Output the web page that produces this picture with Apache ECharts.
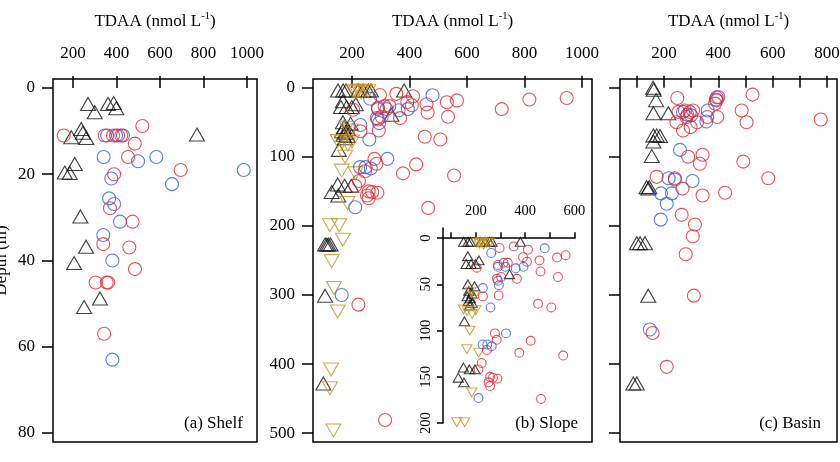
<!DOCTYPE html>
<html>
<head>
<meta charset="utf-8">
<script src="https://cdn.jsdelivr.net/npm/echarts@6/dist/echarts.min.js"></script>
<style>
  html, body { margin: 0; padding: 0; background: #fff; }
  #chart { width: 840px; height: 462px; }
</style>
</head>
<body>
<div id="chart"></div>
<script>
// [TDAA (nmol/L), depth (m)]
const shelfTriangles = [[269,3.7],[300,5.6],[361,3.7],[387,3.5],[399,4.7],[238,9.5],[245,10.4],[192,11.4],[261,11.6],[770,10.8],[208,17.6],[162,19.6],[185,19.7],[234,29.8],[260,36.8],[205,40.6],[251,50.8],[324,48.8]];
const shelfRed = [[157,11],[346,11],[384,11],[407,11],[422,11],[519,8.8],[484,12.9],[453,16],[695,19],[389,20],[370,27.9],[474,31],[339,36.2],[459,37],[485,42],[304,45.1],[355,45.1],[362,45.1],[343,57]];
const shelfBlue = [[357,11],[398,11],[430,11],[341,16],[499,17],[583,16],[985,19],[376,21],[655,22.3],[366,25.6],[389,26.9],[416,31],[339,34.1],[381,40],[381,63]];

const slopeTriangles = [[151,4],[169,4],[179,4],[221,4],[238,4],[256,4],[266,4],[381,4],[168,19.5],[213,24],[161,28],[181,28],[199,28],[337,39],[168,50],[195,52],[172,57],[185,60],[165,63],[178,65],[170,68],[185,70],[175,73],[154,90],[150,140],[174,142],[197,142],[129,151],[152,156],[106,227],[112,227],[118,227],[125,227],[106,301],[100,428]];
const slopeInverted = [[205,5],[215,6],[222,4],[232,7],[245,5],[256,5],[181,58],[195,62],[150,77],[165,79],[185,82],[200,78],[176,100],[164,120],[212,124],[184,167],[123,199],[155,199],[168,220],[129,251],[137,290],[150,324],[127,408],[123,435],[135,496]];
const slopeRed = [[297,10.6],[354,8.9],[412,12.4],[392,20.6],[408,25.5],[459,24],[530,21],[565,18.4],[463,36],[534,42],[290,29],[313,26.6],[330,26.6],[204,32],[286,44],[303,42],[367,44],[229,63],[293,62],[453,71],[507,75],[278,103],[285,110],[423,111],[377,124],[555,127],[245,121],[224,135],[211,142],[258,150],[270,151],[288,152],[252,156],[258,160],[465,174],[721,31],[817,17],[947,15],[222,314],[315,481]];
const slopeBlue = [[263,16],[480,11],[290,31],[320,31],[362,32.6],[394,31],[290,46],[294,51],[229,54],[260,75],[323,103],[228,115],[247,115],[265,117],[211,173],[164,300]];

const basinTriangles = [[160,0],[162,3],[171,18],[161,37],[216,37],[161,69],[173,69],[185,70],[161,78],[155,99],[136,144],[142,146],[146,144],[100,225],[112,225],[130,225],[142,301],[87,428],[100,428]];
const basinRed = [[249,15],[400,13.5],[394,18.3],[388,23],[526,10],[486,33],[504,50],[253,35],[277,33],[295,35],[307,33],[283,42.5],[246,50],[270,62],[298,57],[322,50],[359,42.5],[396,42.5],[777,46],[289,100],[342,97],[332,110],[492,107],[584,131],[173,129],[240,131],[268,146],[342,156],[425,152],[265,184],[314,198],[306,215],[280,241],[310,301],[158,355],[210,404]];
const basinBlue = [[394,14],[391,17],[361,33],[356,49],[286,39],[270,35],[300,40],[259,90],[217,131],[305,135],[240,133],[189,153],[229,153],[210,168],[188,191],[148,350]];

// axis ticks
const shelfXTicks = [200, 400, 600, 800, 1000];
const shelfYTicks = [0, 20, 40, 60, 80];
const slopeXTicks = [200, 400, 600, 800, 1000];
const deepYTicks = [0, 100, 200, 300, 400, 500];
const basinXTicks = [100, 200, 300, 400, 500, 600, 700, 800];
const basinXLabels = [200, 400, 600, 800];
const insetXTicks = [100, 200, 300, 400, 500, 600];
const insetXLabels = [200, 400, 600];
const insetYTicks = [0, 50, 100, 150, 200];

const FONT = 'Liberation Serif';
const RED = '#e8262d', BLUE = '#2c5fe4', GOLD = '#c8921e', BLACK = '#111';
const lineStyle = { color: '#000', width: 1.5 };
const plain = v => String(v);

const chart = echarts.init(document.getElementById('chart'));

const grids = [
  { left: 53, top: 79, width: 204, height: 363 },
  { left: 313, top: 79, width: 279, height: 363 },
  { left: 620, top: 79, width: 217, height: 363 },
  { left: 443, top: 228, width: 132, height: 195 }
].map((g, i) => Object.assign({
  show: i < 3, borderColor: '#000', borderWidth: 1.5, backgroundColor: 'transparent',
  containLabel: false, outerBoundsMode: 'none'
}, g));

const xTitle = {
  name: 'TDAA (nmol L{s|-1})',
  nameLocation: 'middle',
  nameGap: 47,
  nameTextStyle: {
    fontFamily: FONT, fontSize: 17, color: '#000', lineHeight: 21,
    rich: { s: { fontFamily: FONT, fontSize: 10.5, verticalAlign: 'top', lineHeight: 21 } }
  }
};

function xAxis(idx, min, max, ticks, labels, extra) {
  return Object.assign({
    type: 'value', gridIndex: idx, position: 'top', min, max,
    axisLine: { show: false },
    axisTick: { show: true, length: 12, lineStyle, customValues: ticks },
    axisLabel: { fontFamily: FONT, fontSize: 17, color: '#000', margin: 17, customValues: labels, formatter: plain },
    splitLine: { show: false }
  }, extra || {});
}

function yAxis(idx, min, max, ticks, showLabels, extra) {
  return Object.assign({
    type: 'value', gridIndex: idx, inverse: true, min, max,
    axisLine: { show: false },
    axisTick: { show: true, length: 11, lineStyle, customValues: ticks },
    axisLabel: { show: showLabels, fontFamily: FONT, fontSize: 17, color: '#000', margin: 18, customValues: ticks, formatter: plain },
    splitLine: { show: false }
  }, extra || {});
}

function scatter(axis, data, kind, small) {
  const k = small ? 0.68 : 1;
  const styles = {
    tri: { symbol: 'triangle', size: [15 * k, 13 * k], color: BLACK, rotate: 0 },
    inv: { symbol: 'triangle', size: [15 * k, 13 * k], color: GOLD, rotate: 180 },
    red: { symbol: 'circle', size: 13 * k, color: RED, rotate: 0 },
    blue: { symbol: 'circle', size: 13 * k, color: BLUE, rotate: 0 }
  };
  const s = styles[kind];
  return {
    type: 'scatter', xAxisIndex: axis, yAxisIndex: axis, data,
    symbol: s.symbol, symbolSize: s.size, symbolRotate: s.rotate,
    itemStyle: { color: 'rgba(0,0,0,0)', borderColor: s.color, borderWidth: 1.1 },
    emphasis: { disabled: true }, silent: true
  };
}

function panelLabel(text, x) {
  return {
    type: 'text', x, y: 424,
    style: { text, font: '17px "Liberation Serif"', fill: '#000', align: 'right', verticalAlign: 'middle' }
  };
}

chart.setOption({
  animation: false,
  grid: grids,
  xAxis: [
    xAxis(0, 108, 1046, shelfXTicks, shelfXTicks, xTitle),
    xAxis(1, 64, 1035, slopeXTicks, slopeXTicks, xTitle),
    xAxis(2, 38, 837, basinXTicks, basinXLabels, xTitle),
    xAxis(3, 67, 603, insetXTicks, insetXLabels, {
      axisLine: { show: true, lineStyle },
      axisTick: { show: true, length: 6, lineStyle, customValues: insetXTicks },
      axisLabel: { fontFamily: FONT, fontSize: 14.5, color: '#000', margin: 9, customValues: insetXLabels, formatter: plain }
    })
  ],
  yAxis: [
    yAxis(0, -2.09, 82.1, shelfYTicks, true, {
      name: 'Depth (m)', nameLocation: 'middle', nameRotate: 90, nameGap: 43,
      nameTextStyle: { fontFamily: FONT, fontSize: 17, color: '#000' }
    }),
    yAxis(1, -12.6, 512.8, deepYTicks, true),
    yAxis(2, -12.6, 512.8, deepYTicks, false),
    yAxis(3, -11, 200, insetYTicks, true, {
      axisLine: { show: true, lineStyle },
      axisTick: { show: true, length: 6, lineStyle, customValues: insetYTicks },
      axisLabel: { fontFamily: FONT, fontSize: 14.5, color: '#000', margin: 9, rotate: 90, customValues: insetYTicks, formatter: plain }
    })
  ],
  series: [
    scatter(0, shelfTriangles, 'tri'),
    scatter(0, shelfBlue, 'blue'),
    scatter(0, shelfRed, 'red'),
    scatter(1, slopeTriangles, 'tri'),
    scatter(1, slopeInverted, 'inv'),
    scatter(1, slopeBlue, 'blue'),
    scatter(1, slopeRed, 'red'),
    scatter(2, basinTriangles, 'tri'),
    scatter(2, basinBlue, 'blue'),
    scatter(2, basinRed, 'red'),
    scatter(3, slopeTriangles.filter(p => p[1] <= 200), 'tri', true),
    scatter(3, slopeInverted.filter(p => p[1] <= 200), 'inv', true),
    scatter(3, slopeBlue.filter(p => p[1] <= 200 && p[0] <= 603), 'blue', true),
    scatter(3, slopeRed.filter(p => p[1] <= 200 && p[0] <= 603), 'red', true)
  ],
  graphic: [
    panelLabel('(a) Shelf', 243),
    panelLabel('(b) Slope', 578),
    panelLabel('(c) Basin', 821)
  ]
});
</script>
</body>
</html>
